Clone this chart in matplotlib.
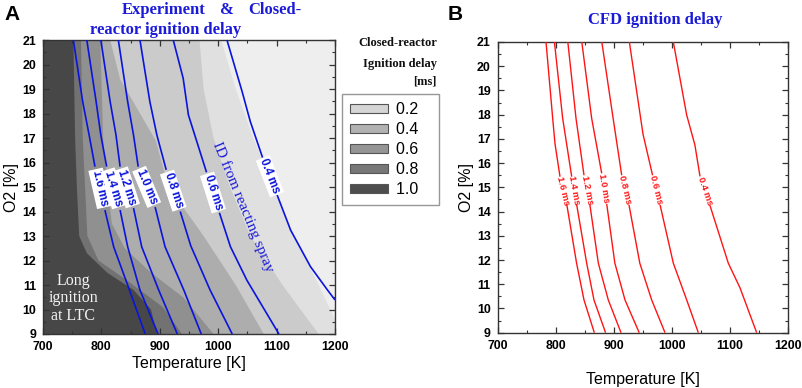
import numpy as np
import matplotlib
matplotlib.use('Agg')
import matplotlib.pyplot as plt
from matplotlib.patches import Patch
from matplotlib.ticker import MultipleLocator

W, H = 803, 388

# ---------------- data: closed-reactor shading boundaries (T [K] vs O2 [%]) --------------
bnd1_o2 = [21, 19, 17, 15, 13, 11, 9.6, 9]
bnd1_t = [1005, 1030, 1060, 1095, 1130, 1172, 1200, 1215]
bnd2_o2 = [21, 19, 17, 15, 13, 11, 9]
bnd2_t = [968, 975, 992, 1020, 1055, 1110, 1172]
bnd3_o2 = [21, 19.4, 16.9, 15, 13, 11, 9]
bnd3_t = [815, 832, 893, 915, 975, 1030, 1078]
bnd4_o2 = [21, 17, 15, 13.5, 12.5, 11.5, 10.5, 9]
bnd4_t = [798, 803, 810, 818, 840, 885, 940, 992]
bnd5_o2 = [21, 17, 15, 13, 12, 11.2, 10.1, 9]
bnd5_t = [765, 768, 772, 776, 795, 843, 905, 938]
bnd6_o2 = [21, 17, 15, 13, 12.3, 11.5, 10.8, 10, 9]
bnd6_t = [752, 755, 758, 762, 775, 810, 855, 885, 895]
shade_bg = '#eeeeee'
shade_colors = ['#e0e0e0', '#cbcbcb', '#adadad', '#909090', '#727272', '#474747']

legend_labels = ['0.2', '0.4', '0.6', '0.8', '1.0']
legend_colors = ['#d5d5d5', '#b2b2b2', '#959595', '#777777', '#4d4d4d']

# ---------------- data: experiment ID lines (blue) --------------
exp_labels = ['1.6 ms', '1.4 ms', '1.2 ms', '1.0 ms', '0.8 ms', '0.6 ms', '0.4 ms']
exp_up_o2 = [[21, 18.48, 17.12, 15.83], [21, 18.48, 17.12, 15.83], [21, 18.48, 17.12, 15.83],
             [21, 18.48, 17.12, 15.83], [21, 18.48, 17.12, 15.7], [21, 19.44, 17.94, 15.6],
             [21, 18.89, 17.67, 16.2]]
exp_up_t = [[752, 768, 779, 789], [775, 791, 799, 809], [799, 815, 825, 832],
            [829, 845, 855, 863], [866, 883, 895, 911], [923, 940, 949, 980],
            [1015, 1041, 1055, 1076]]
exp_lo_o2 = [[14.06, 12.56, 10.8, 9], [14.06, 12.56, 10.8, 9], [14.14, 12.56, 10.8, 9],
             [14.18, 12.56, 10.8, 9], [14.0, 12.6, 10.8, 9], [13.95, 12.56, 11.2, 9],
             [14.67, 13.24, 11.75, 10.8, 10.39]]
exp_lo_t = [[806, 821, 848, 875], [832, 845, 866, 897], [855, 869, 898, 930],
            [892, 909, 941, 971], [935, 953, 986, 1024], [1002, 1021, 1049, 1104],
            [1101, 1124, 1158, 1187, 1200]]

# ---------------- data: CFD ID lines (red) --------------
cfd_labels = exp_labels
cfd_up_o2 = [[21, 17.85, 16.8, 15.44], [21, 17.85, 15.44], [21, 17.85, 15.5], [21, 17.85, 15.58],
             [21, 17.85, 15.5], [21, 17.2, 15.5], [21, 17.99, 16.75, 15.45]]
cfd_up_t = [[783.3, 794.8, 798.8, 807.4], [797.8, 812, 827.6], [820.9, 835, 848.8], [845, 862, 879.3],
            [879.5, 899, 913.8], [927, 950.5, 967], [1002.8, 1025.8, 1040, 1048.8]]
cfd_lo_o2 = [[14.31, 11.87, 10.35, 9], [14.31, 11.87, 10.35, 9], [14.27, 11.87, 10.35, 9],
             [14.31, 11.87, 10.35, 9], [14.27, 11.87, 10.35, 9], [14.27, 11.87, 10.35, 9],
             [14.25, 11.87, 10.85, 9]]
cfd_lo_t = [[819, 836, 848.8, 866.6], [836, 853.4, 866, 886], [859, 873.5, 890.7, 912.6],
            [888, 902, 919.5, 944], [926.4, 945, 965.5, 988.5], [980, 1002.8, 1025.9, 1045.9],
            [1066, 1097.6, 1117.8, 1146.5]]

x_ticks = [700, 800, 900, 1000, 1100, 1200]
y_ticks = list(range(9, 22))

# ---------------- figure --------------
fig = plt.figure(figsize=(W / 100, H / 100), dpi=100)
axA = fig.add_axes([43 / W, (H - 334) / H, 292 / W, 294 / H])
axB = fig.add_axes([497.7 / W, (H - 332.7) / H, 290 / W, 290.7 / H])

tick_font = dict(family='Liberation Sans', weight='bold', size=8.9)
for ax in (axA, axB):
    ax.set_xlim(700, 1200)
    ax.set_ylim(9, 21)
    ax.set_xticks(x_ticks)
    ax.set_yticks(y_ticks)
    ax.xaxis.set_minor_locator(MultipleLocator(50))
    ax.yaxis.set_minor_locator(MultipleLocator(0.5))
    ax.tick_params(which='both', direction='in', top=True, right=True, color='#333333')
    ax.tick_params(which='major', length=4, width=0.9, pad=5)
    ax.tick_params(which='minor', length=2.5, width=0.8)
    for lab in ax.get_xticklabels() + ax.get_yticklabels():
        lab.set_fontproperties(matplotlib.font_manager.FontProperties(**tick_font))
    for s in ax.spines.values():
        s.set_color('#333333')
        s.set_linewidth(1.0)
    ax.set_ylabel('O2 [%]', family='Liberation Sans', fontsize=11.5, labelpad=2)

axA.set_xlabel('Temperature [K]', family='Liberation Sans', fontsize=11.5, labelpad=2)
axB.set_xlabel('Temperature [K]', family='Liberation Sans', fontsize=11.5, labelpad=15)

# shading
axA.set_facecolor(shade_bg)
bnds = [(bnd1_o2, bnd1_t), (bnd2_o2, bnd2_t), (bnd3_o2, bnd3_t),
        (bnd4_o2, bnd4_t), (bnd5_o2, bnd5_t), (bnd6_o2, bnd6_t)]
for (o2, t), c in zip(bnds, shade_colors):
    xs = np.r_[690, t[0], t, t[-1], 690]
    ys = np.r_[21.5, 21.5, o2, 8.5, 8.5]
    axA.fill(xs, ys, color=c, lw=0, zorder=1)


def draw_lines(ax, labels, up_o2, up_t, lo_o2, lo_t, color, lw, fs, box):
    for lab, uo, ut, lo, lt in zip(labels, up_o2, up_t, lo_o2, lo_t):
        ax.plot(ut, uo, color=color, lw=lw, zorder=3, solid_capstyle='butt')
        ax.plot(lt, lo, color=color, lw=lw, zorder=3, solid_capstyle='butt')
        p1 = ax.transData.transform((ut[-1], uo[-1]))
        p2 = ax.transData.transform((lt[0], lo[0]))
        ang = np.degrees(np.arctan2(p2[1] - p1[1], p2[0] - p1[0]))
        xm, ym = (ut[-1] + lt[0]) / 2, (uo[-1] + lo[0]) / 2
        kw = {}
        if box:
            kw['bbox'] = dict(boxstyle='square,pad=0.12', fc='white', ec='none')
        ax.text(xm, ym, lab, rotation=ang, ha='center', va='center', color=color, fontsize=fs,
                family='Liberation Sans', weight='bold', zorder=4, **kw)


draw_lines(axA, exp_labels, exp_up_o2, exp_up_t, exp_lo_o2, exp_lo_t, '#0a14dc', 1.2, 8.5, True)
draw_lines(axB, cfd_labels, cfd_up_o2, cfd_up_t, cfd_lo_o2, cfd_lo_t, '#ff1414', 1.0, 6.8, False)

blue = '#1a1ad8'
axA.text(1043, 14.2, 'ID from reacting spray', rotation=-67.5, ha='center', va='center',
         color=blue, fontsize=11, family='Liberation Serif', zorder=4)
axA.text(752, 10.45, 'Long\nignition\nat LTC', ha='center', va='center', color='#f2f2f2',
         fontsize=11.5, family='Liberation Serif', linespacing=1.1, zorder=4)


def ftext(x, y, s, **kw):
    fig.text(x / W, 1 - y / H, s, **kw)


title_kw = dict(family='Liberation Serif', weight='bold', fontsize=12, color=blue, va='center')
ftext(122, 10, 'Experiment', ha='left', **title_kw)
ftext(227, 10, '&', ha='center', **title_kw)
ftext(302, 10, 'Closed-', ha='right', **title_kw)
ftext(166, 30, 'reactor ignition delay', ha='center', **title_kw)
ftext(655, 20, 'CFD ignition delay', ha='center', **title_kw)

ftext(12, 14, 'A', ha='center', va='center', family='Liberation Sans', weight='bold', fontsize=15)
ftext(455, 14, 'B', ha='center', va='center', family='Liberation Sans', weight='bold', fontsize=15)

lt_kw = dict(family='Liberation Serif', weight='bold', fontsize=9, color='#111111', ha='right', va='center')
ftext(437, 43, 'Closed-reactor', **lt_kw)
ftext(437, 64, 'Ignition delay', **lt_kw)
ftext(437, 82, '[ms]', **lt_kw)

handles = [Patch(facecolor=c, edgecolor='#555555', lw=0.8) for c in legend_colors]
leg = fig.legend(handles, [l + '   ' for l in legend_labels], loc='upper left',
                 bbox_to_anchor=(342 / W, 1 - 94 / H),
                 borderaxespad=0, prop=dict(family='Liberation Sans', size=11.5),
                 handlelength=2.35, handleheight=0.45, handletextpad=0.5, labelspacing=0.32,
                 borderpad=0.5, frameon=True, fancybox=False)
leg.get_frame().set_edgecolor('#7f7f7f')
leg.get_frame().set_linewidth(1.0)

fig.savefig('out.png', dpi=100)
